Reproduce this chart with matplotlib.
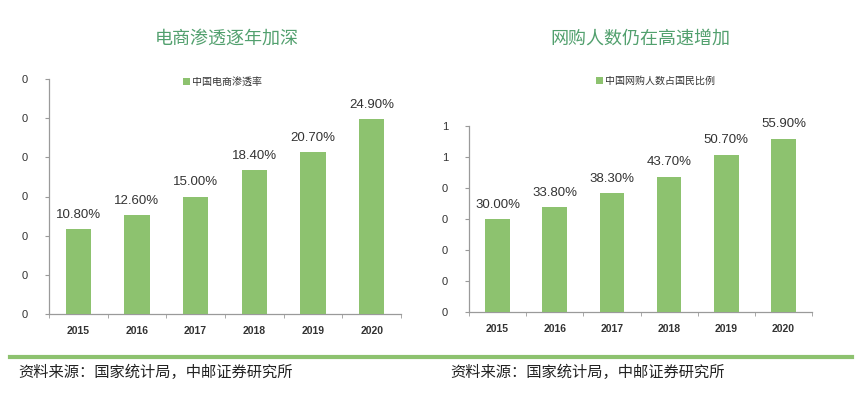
import matplotlib
matplotlib.use('Agg')
import matplotlib.pyplot as plt
import numpy as np

plt.rcParams['font.family'] = ['Liberation Sans', 'Noto Sans CJK SC', 'DejaVu Sans']
plt.rcParams['axes.unicode_minus'] = False

CJK = ['Noto Sans CJK SC', 'DejaVu Sans']
GREEN = '#8dc26f'
TITLE_GREEN = '#52a06e'
AXIS_GREY = '#9a9a9a'
TEXT = '#333333'

# ── Data ──
years = ['2015', '2016', '2017', '2018', '2019', '2020']
ecom_rate = [10.8, 12.6, 15.0, 18.4, 20.7, 24.9]          # 中国电商渗透率 (%)
online_share = [30.0, 33.8, 38.3, 43.7, 50.7, 55.9]       # 中国网购人数占国民比例 (%)

left_ticks = [0, 5, 10, 15, 20, 25, 30]
left_ticklabels = ['0', '0', '0', '0', '0', '0', '0']
right_ticks = [0, 10, 20, 30, 40, 50, 60]
right_ticklabels = ['0', '0', '0', '0', '0', '1', '1']

fig = plt.figure(figsize=(8.66, 3.97), dpi=100)


def draw_panel(rect, values, ticks, ticklabels, legend_label, legend_xy, title, title_x):
    ax = fig.add_axes(rect)
    x = np.arange(len(years))
    bars = ax.bar(x, values, width=0.43, color=GREEN, label=legend_label, zorder=3)
    for bar, v in zip(bars, values):
        ax.annotate(f'{v:.2f}%', (bar.get_x() + bar.get_width() / 2, bar.get_height()),
                    xytext=(0, 6), textcoords='offset points', ha='center', va='bottom',
                    fontsize=9.5, color=TEXT)
    ax.set_xlim(-0.5, len(years) - 0.5)
    ax.set_ylim(ticks[0], ticks[-1])
    ax.set_yticks(ticks)
    ax.set_yticklabels(ticklabels, fontsize=8, color=TEXT)
    ax.set_xticks(x)
    ax.set_xticklabels(years, fontsize=7.5, color=TEXT, fontweight='bold')
    ax.set_xticks(np.arange(-0.5, len(years)), minor=True)
    ax.tick_params(axis='x', which='major', length=0, pad=9)
    ax.tick_params(axis='x', which='minor', length=3, color=AXIS_GREY, direction='out')
    ax.tick_params(axis='y', length=3, color=AXIS_GREY, pad=12)
    for s in ['top', 'right']:
        ax.spines[s].set_visible(False)
    for s in ['left', 'bottom']:
        ax.spines[s].set_color(AXIS_GREY)
        ax.spines[s].set_linewidth(0.9)
    leg = ax.legend(loc='center left', bbox_to_anchor=legend_xy, bbox_transform=fig.transFigure,
                    frameon=False, handlelength=0.7, handleheight=0.7, handletextpad=0.2,
                    borderpad=0, borderaxespad=0, prop={'family': CJK, 'size': 7.2})
    for t in leg.get_texts():
        t.set_color(TEXT)
    fig.text(title_x, 1 - 39 / 397, title, ha='center', va='center', fontsize=13,
             color=TITLE_GREEN, family=CJK)
    return ax


draw_panel([49 / 866, 1 - 314 / 397, 352 / 866, 235 / 397], ecom_rate,
           left_ticks, left_ticklabels, '中国电商渗透率', (183 / 866, 1 - 82 / 397),
           '电商渗透逐年加深', 227 / 866)
draw_panel([469 / 866, 1 - 312 / 397, 343 / 866, 186 / 397], online_share,
           right_ticks, right_ticklabels, '中国网购人数占国民比例', (596 / 866, 1 - 81 / 397),
           '网购人数仍在高速增加', 640 / 866)

# green separator line and sources
fig.add_artist(plt.Line2D([10 / 866, 852 / 866], [1 - 357 / 397, 1 - 357 / 397],
                          transform=fig.transFigure, color=GREEN, linewidth=3))
src = '资料来源：国家统计局，中邮证券研究所'
fig.text(18 / 866, 1 - 372 / 397, src, ha='left', va='center', fontsize=11,
         color='#222222', family=CJK, style='italic')
fig.text(450 / 866, 1 - 372 / 397, src, ha='left', va='center', fontsize=11,
         color='#222222', family=CJK, style='italic')

fig.savefig('out.png', dpi=100, facecolor='white')
